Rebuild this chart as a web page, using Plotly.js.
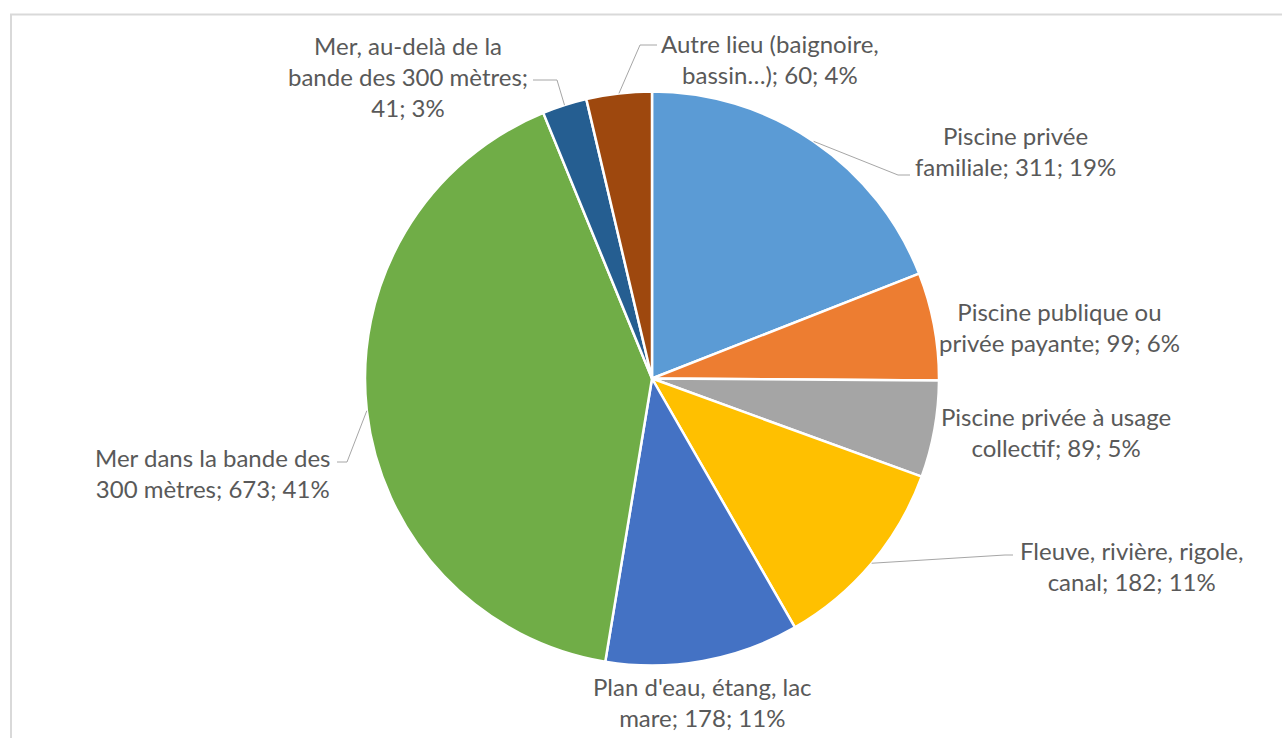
<!DOCTYPE html>
<html><head><meta charset="utf-8">
<script src="https://cdn.plot.ly/plotly-3.0.1.min.js"></script>
<style>html,body{margin:0;padding:0;background:#fff;}#chart{width:1282px;height:738px;}</style>
</head><body><div id="chart"></div>
<script>
// ---- data ----
const categories = [
  "Piscine privée familiale",
  "Piscine publique ou privée payante",
  "Piscine privée à usage collectif",
  "Fleuve, rivière, rigole, canal",
  "Plan d'eau, étang, lac mare",
  "Mer dans la bande des 300 mètres",
  "Mer, au-delà de la bande des 300 mètres",
  "Autre lieu (baignoire, bassin…)"
];
const values = [311, 99, 89, 182, 178, 673, 41, 60];
const colors = ["#5B9BD5", "#ED7D31", "#A5A5A5", "#FFC000", "#4472C4", "#70AD47", "#255E91", "#9E480E"];

// ---- layout config (label placement, pixels) ----
const W = 1282, H = 738;
const CX = 652, CY = 378.5, R = 287;
const wrapWidth = [19, 22, 22, 24, 22, 21, 21, 22];
const labelCenter = [[1015,151],[1059,327],[1056,432],[1131,566],[702,702],[213,473],[408,76],[770,59]];
// leader: [attachX, attachY, elbowX] or null
const leader = [[910,175,898], null, null, [1013,555,1005], null, [337,462,347], [533,80,557], [657,45,640]];

function wrap(text, n) {
  const words = text.split(" "); const lines = []; let cur = "";
  for (const w of words) {
    if (cur === "") cur = w;
    else if ((cur + " " + w).length <= n) cur += " " + w;
    else { lines.push(cur); cur = w; }
  }
  if (cur) lines.push(cur);
  return lines.join("<br>");
}
const total = values.reduce((a, b) => a + b, 0);
const px = x => x / W, py = y => 1 - y / H;

const annotations = [], shapes = [];
let cum = 0;
values.forEach((v, i) => {
  const mid = (cum + v / 2) / total * 2 * Math.PI; cum += v;
  const ex = CX + R * Math.sin(mid), ey = CY - R * Math.cos(mid);
  const txt = wrap(categories[i] + "; " + v + "; " + Math.round(v / total * 100) + "%", wrapWidth[i]);
  annotations.push({xref:"paper", yref:"paper", x: px(labelCenter[i][0]), y: py(labelCenter[i][1]),
    xanchor:"center", yanchor:"middle", align:"center", showarrow:false, text: txt,
    font:{family:"Lato, 'Open Sans', sans-serif", size:24, color:"#595959"}});
  if (leader[i]) {
    const [ax, ay, elx] = leader[i];
    shapes.push({type:"path", xref:"paper", yref:"paper",
      path:`M ${px(ex)} ${py(ey)} L ${px(elx)} ${py(ay)} L ${px(ax)} ${py(ay)}`,
      line:{color:"#A6A6A6", width:1}});
  }
});
shapes.push({type:"rect", xref:"paper", yref:"paper", x0: px(11), y0: -0.05, x1: 1.05, y1: py(14.5),
  line:{color:"#D9D9D9", width:2}, fillcolor:"rgba(0,0,0,0)", layer:"below"});

const trace = {
  type:"pie", labels: categories, values: values, sort:false, direction:"clockwise", rotation:0,
  marker:{colors: colors, line:{color:"#FFFFFF", width:2.5}},
  textinfo:"none", hoverinfo:"label+value+percent",
  domain:{x:[px(CX - R), px(CX + R)], y:[py(CY + R), py(CY - R)]}
};
const layout = {width:W, height:H, margin:{l:0,r:0,t:0,b:0}, showlegend:false,
  paper_bgcolor:"#FFFFFF", annotations, shapes};
Plotly.newPlot("chart", [trace], layout, {displayModeBar:false, staticPlot:true});
</script></body></html>
